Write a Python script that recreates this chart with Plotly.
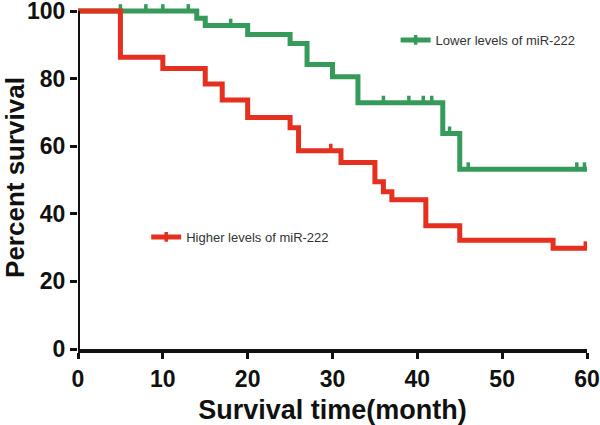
import plotly.graph_objects as go

# ---- data ----
green_name = "Lower levels of miR-222"
green_time = [0, 14, 15, 20, 25, 27, 30, 33, 43, 45, 60]
green_surv = [100, 97.9, 95.7, 93.1, 90.4, 84.2, 80.6, 72.9, 63.8, 53.2, 53.2]
green_censor = [5, 8, 10, 13, 18, 36, 39, 40.7, 41.7, 43.8, 46, 58.8, 59.7]

red_name = "Higher levels of miR-222"
red_time = [0, 5, 10, 15, 17, 20, 25, 26, 31, 35, 36, 37, 41, 45, 56, 60]
red_surv = [100, 86.3, 83.0, 78.4, 73.7, 68.5, 65.5, 58.7, 55.2, 49.5, 46.5, 44.2, 36.5, 32.2, 29.8, 29.8]
red_censor = [29.8, 59.8]

x_ticks = [0, 10, 20, 30, 40, 50, 60]
y_ticks = [0, 20, 40, 60, 80, 100]

GREEN = "#369A5B"
RED = "#E5301F"
TICK_RAISE = 0.8   # censor tick raised slightly above the curve
Y_HEADROOM = 1.5   # room above 100 so censor ticks at 100 are drawn


def step_value(times, surv, t):
    v = surv[0]
    for ti, si in zip(times, surv):
        if ti <= t:
            v = si
    return v


fig = go.Figure()


def add_series(times, surv, censor, color, name, legend):
    cy = [step_value(times, surv, t) + TICK_RAISE for t in censor]
    fig.add_trace(go.Scatter(
        x=times, y=surv, mode="lines", line=dict(color=color, width=5, shape="hv"),
        showlegend=False, cliponaxis=False, hoverinfo="skip"))
    fig.add_trace(go.Scatter(
        x=censor, y=cy, mode="markers",
        marker=dict(symbol="line-ns", size=6, line=dict(color=color, width=3.5)),
        showlegend=False, cliponaxis=False, hoverinfo="skip"))
    # legend entry
    fig.add_trace(go.Scatter(
        x=[None], y=[None], mode="lines+markers", name=name, legend=legend,
        line=dict(color=color, width=5),
        marker=dict(symbol="line-ns", size=7, line=dict(color=color, width=3.5))))


add_series(green_time, green_surv, green_censor, GREEN, green_name, "legend")
add_series(red_time, red_surv, red_censor, RED, red_name, "legend2")

axis_font = dict(family="Liberation Sans, Arial, sans-serif", size=23, color="#111", weight="bold")
xtitle_font = dict(family="Liberation Sans, Arial, sans-serif", size=27, color="#111", weight="bold")
ytitle_font = dict(family="Liberation Sans, Arial, sans-serif", size=26, color="#111", weight="bold")
leg_font = dict(family="Liberation Sans, Arial, sans-serif", size=13, color="#333")

# y axis line drawn only from the first to the last tick
fig.add_shape(type="line", xref="x", yref="y", x0=x_ticks[0], x1=x_ticks[0],
              y0=y_ticks[0], y1=y_ticks[-1], line=dict(color="#111", width=4), layer="above")

fig.update_layout(
    width=600, height=425,
    margin=dict(l=78, r=13, t=6, b=76),
    paper_bgcolor="white", plot_bgcolor="white",
    legend=dict(x=0.624, y=0.901, xanchor="left", yanchor="middle",
                font=leg_font, bgcolor="rgba(0,0,0,0)", itemwidth=30),
    legend2=dict(x=0.134, y=0.3265, xanchor="left", yanchor="middle",
                 font=leg_font, bgcolor="rgba(0,0,0,0)", itemwidth=30),
    xaxis=dict(range=[x_ticks[0], x_ticks[-1]], tickvals=x_ticks, ticktext=[str(v) for v in x_ticks],
               showgrid=False, zeroline=False, showline=True, linecolor="#111", linewidth=4,
               ticks="outside", ticklen=6, tickwidth=3, tickcolor="#111",
               tickfont=axis_font, automargin=False, ticklabeloverflow="allow",
               title=dict(text="Survival time(month)", font=xtitle_font, standoff=18)),
    yaxis=dict(range=[y_ticks[0], y_ticks[-1] + Y_HEADROOM], tickvals=y_ticks,
               ticktext=[str(v) for v in y_ticks],
               showgrid=False, zeroline=False, showline=False,
               ticks="outside", ticklen=7, tickwidth=3, tickcolor="#111",
               tickfont=axis_font, automargin=False, ticklabeloverflow="allow",
               title=dict(text="Percent survival", font=ytitle_font, standoff=6)),
)

fig.write_html("out.html", config={"displayModeBar": False},
               post_script="document.body.style.margin='0';")
